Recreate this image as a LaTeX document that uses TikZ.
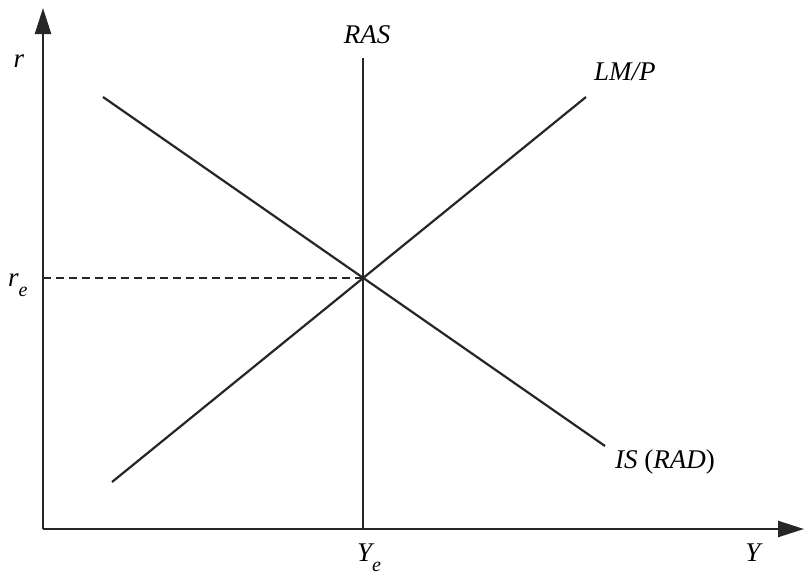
\documentclass[tikz,border=0pt]{standalone}
\usepackage{fontspec}
\setmainfont{Liberation Serif}
\usetikzlibrary{arrows.meta}
\newcommand{\subE}{\raisebox{-0.38em}{\fontsize{20}{20}\selectfont\itshape e}}
\begin{document}
\begin{tikzpicture}[x=1pt,y=-1pt,
  lbl/.style={font=\fontsize{27}{30}\selectfont\itshape, inner sep=0pt},
  curve/.style={line width=2.2pt, draw=black!85},
  axis/.style={line width=2.4pt, draw=black!85, -{Triangle[length=26pt,width=16pt]}}]
\useasboundingbox (0,0) rectangle (804,574);
\coordinate (O) at (43,529);
\coordinate (ytip) at (43,8);
\coordinate (xtip) at (804,529);
\draw[axis] (O) -- (ytip);
\draw[axis] (O) -- (xtip);
% curves
\coordinate (E) at (363,278);
\coordinate (rasTop) at (363,58);
\coordinate (rasBot) at (363,529);
\coordinate (isA) at (103,97);
\coordinate (isB) at (605,446);
\coordinate (lmA) at (112,482);
\coordinate (lmB) at (586,97);
\coordinate (rAx) at (43,278);
\draw[curve] (rasTop) -- (rasBot);
\draw[curve] (isA) -- (isB);
\draw[curve] (lmA) -- (lmB);
\draw[line width=1.8pt, draw=black!85, dash pattern=on 8pt off 5pt] (rAx) -- (E);
% labels
\node[lbl] (r) at (19,61) {r};
\node[lbl, anchor=base west] (re) at (8,286) {r\subE};
\node[lbl] (ras) at (367,35) {RAS};
\node[lbl, anchor=west] (lm) at (594,72) {LM/P};
\node[lbl] (is) at (665,462) {IS \upshape(\itshape RAD\upshape)};
\node[lbl, anchor=base] (ye) at (369,561) {Y\subE};
\node[lbl] (y) at (753,553) {Y};
\end{tikzpicture}
\end{document}
